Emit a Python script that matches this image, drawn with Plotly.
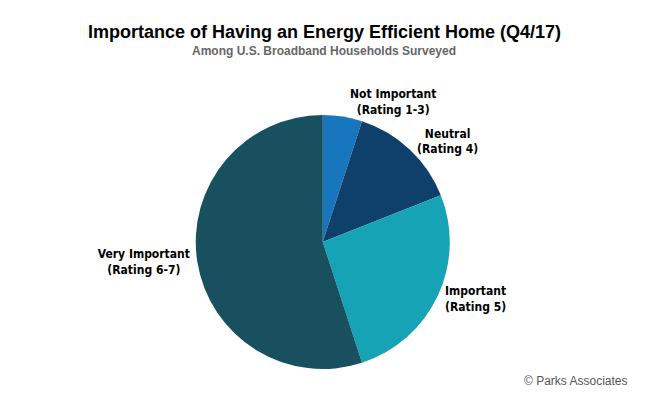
import plotly.graph_objects as go

labels = ["Not Important<br>(Rating 1-3)", "Neutral<br>(Rating 4)",
          "Important<br>(Rating 5)", "Very Important<br>(Rating 6-7)"]
values = [5, 14, 26, 55]
colors = ["#1776be", "#0f406c", "#17a3b6", "#18505f"]

fig = go.Figure(go.Pie(
    labels=labels, values=values, sort=False, direction="clockwise", rotation=0,
    marker=dict(colors=colors, line=dict(width=0)),
    texttemplate="<b>%{label}</b>", textposition="outside",
    textfont=dict(family="DejaVu Sans Condensed, Liberation Sans Narrow, sans-serif", size=12, color="black"),
    domain=dict(x=[0.29, 0.686], y=[0.0975, 0.7325]),
    showlegend=False,
))

fig.update_layout(
    width=645, height=400, margin=dict(l=0, r=0, t=0, b=0),
    paper_bgcolor="white",
    annotations=[
        dict(text="<b>Importance of Having an Energy Efficient Home (Q4/17)</b>", x=0.49, y=1 - 12/400,
             xref="paper", yref="paper", showarrow=False,
             font=dict(family="Liberation Sans, Arial, sans-serif", size=18, color="black")),
        dict(text="<b>Among U.S. Broadband Households Surveyed</b>", x=0.49, y=1 - 34/400,
             xref="paper", yref="paper", showarrow=False,
             font=dict(family="Liberation Sans, Arial, sans-serif", size=12, color="#666")),
        dict(text="© Parks Associates", x=0.965, y=0.045, xref="paper", yref="paper",
             xanchor="right", showarrow=False,
             font=dict(family="Liberation Sans, Arial, sans-serif", size=12, color="#555")),
    ],
)

fig.write_html("out.html")
